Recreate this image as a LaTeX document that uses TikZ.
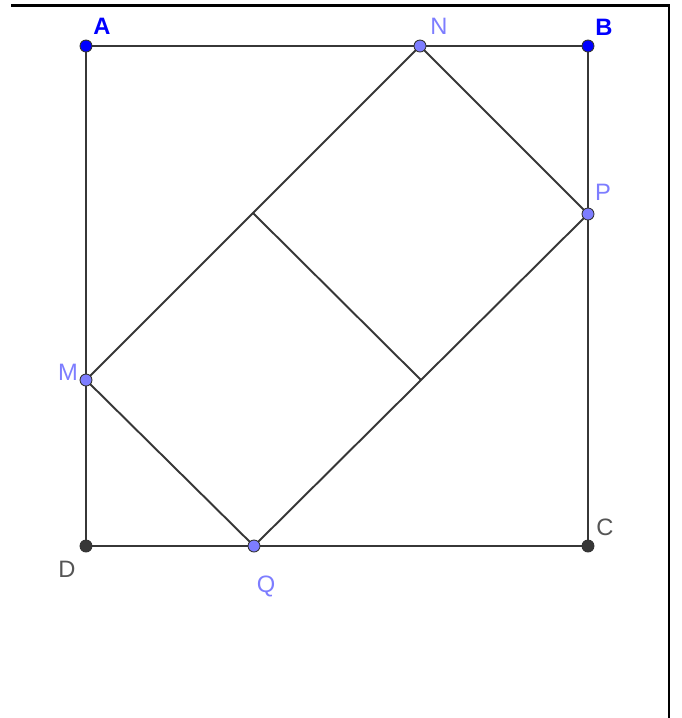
\documentclass[tikz,border=0pt]{standalone}
\usepackage{fontspec}
\setmainfont{Liberation Sans}
\definecolor{ptblue}{RGB}{0,0,255}
\definecolor{ptlight}{RGB}{125,125,255}
\definecolor{ptdark}{RGB}{55,55,55}
\definecolor{txtlight}{RGB}{125,125,255}
\definecolor{txtdark}{RGB}{85,85,85}

\begin{document}
\begin{tikzpicture}[x=0.02cm, y=-0.02cm, line width=1.1pt,
    seg/.style={draw=ptdark, line width=1.1pt},
    dot/.style={circle, draw=black!80, line width=0.5pt, inner sep=0pt, minimum size=0.24cm},
    lbl/.style={inner sep=0pt, font=\fontsize{13.5}{15}\selectfont}]
    \useasboundingbox (0,0) rectangle (682,718);

    % frame
    \coordinate (FL) at (11,5);
    \coordinate (FR) at (669,5);
    \coordinate (FB) at (669,718);
    \draw[black, line width=1.7pt] (FL) -- (FR) -- (FB);

    % square ABCD and points on its sides
    \coordinate (A) at (86,46);
    \coordinate (B) at (588,46);
    \coordinate (C) at (588,546);
    \coordinate (D) at (86,546);
    \coordinate (N) at (420,46);
    \coordinate (P) at (588,214);
    \coordinate (M) at (86,380);
    \coordinate (Q) at (254,546);
    \coordinate (MN) at (253,213);
    \coordinate (QP) at (421,380);

    \draw[seg] (A) -- (B) -- (C) -- (D) -- cycle;
    \draw[seg] (M) -- (N) -- (P) -- (Q) -- cycle;
    \draw[seg] (MN) -- (QP);

    % points
    \node (dA) [dot, fill=ptblue] at (A) {};
    \node (dB) [dot, fill=ptblue] at (B) {};
    \node (dC) [dot, fill=ptdark] at (C) {};
    \node (dD) [dot, fill=ptdark] at (D) {};
    \node (dN) [dot, fill=ptlight] at (N) {};
    \node (dP) [dot, fill=ptlight] at (P) {};
    \node (dM) [dot, fill=ptlight] at (M) {};
    \node (dQ) [dot, fill=ptlight] at (Q) {};

    % labels
    \node (labA) [lbl, text=ptblue] at (102,26) {\bfseries A};
    \node (labB) [lbl, text=ptblue] at (604,27) {\bfseries B};
    \node (labN) [lbl, text=txtlight] at (439,26) {N};
    \node (labP) [lbl, text=txtlight] at (603,192) {P};
    \node (labM) [lbl, text=txtlight] at (68,372) {M};
    \node (labQ) [lbl, text=txtlight] at (266,586) {Q};
    \node (labC) [lbl, text=txtdark] at (605,527) {C};
    \node (labD) [lbl, text=txtdark] at (67,569) {D};
\end{tikzpicture}
\end{document}
